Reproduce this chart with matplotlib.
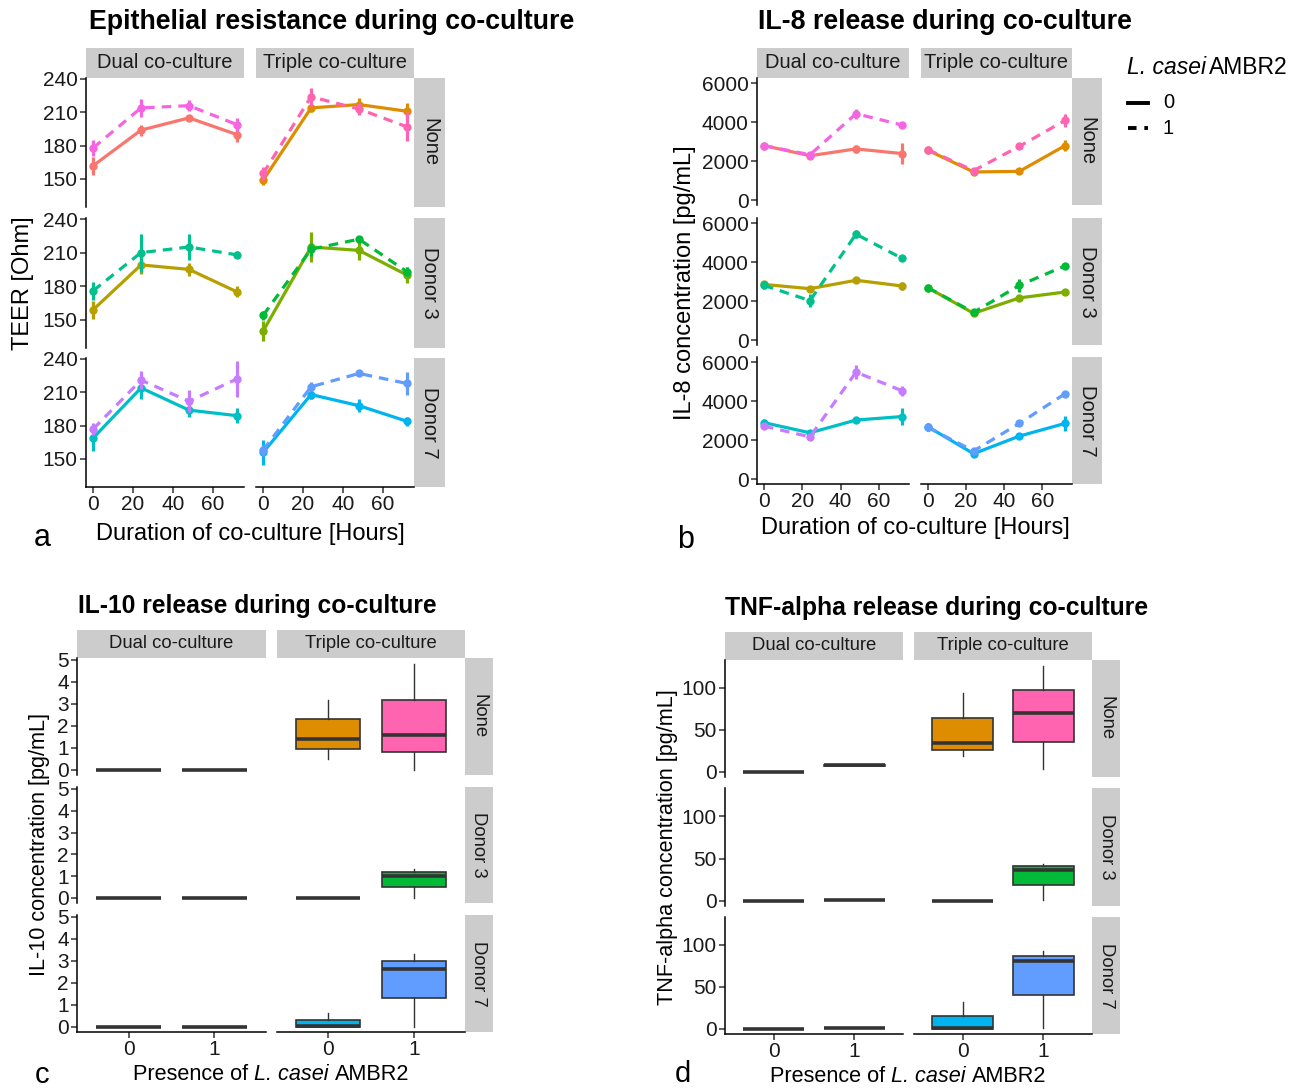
import matplotlib
matplotlib.use("Agg")
import matplotlib.pyplot as plt
from matplotlib.lines import Line2D

W, H = 1307, 1092
plt.rcParams['font.family'] = ['Liberation Sans', 'DejaVu Sans']

# ---- data ----
hours = [0, 24, 48, 72]
donors = ["None", "Donor 3", "Donor 7"]
cultures = ["Dual co-culture", "Triple co-culture"]
casei_levels = ["0", "1"]

# colour per donor -> [culture][casei]
colors_none = [["#F8766D", "#F564E3"], ["#DE8C00", "#FF64B0"]]
colors_d3 = [["#B79F00", "#00C08B"], ["#7CAE00", "#00BA38"]]
colors_d7 = [["#00BFC4", "#C77CFF"], ["#00B4F0", "#619CFF"]]

# TEER [Ohm], [culture][casei] -> values at hours
teer_none = [[[162, 194, 205, 190], [178, 214, 216, 199]],
             [[149, 214, 217, 211], [155, 224, 213, 197]]]
teer_d3 = [[[159, 199, 195, 175], [176, 210, 215, 208]],
           [[140, 215, 212, 190], [154, 213, 222, 193]]]
teer_d7 = [[[169, 214, 194, 189], [177, 221, 202, 222]],
           [[156, 208, 198, 184], [158, 215, 227, 218]]]
teer_none_err = [[[8, 5, 3, 7], [7, 8, 5, 6]], [[4, 4, 6, 7], [6, 8, 5, 13]]]
teer_d3_err = [[[8, 8, 6, 5], [8, 17, 12, 3]], [[9, 13, 9, 7], [4, 6, 3, 4]]]
teer_d7_err = [[[12, 10, 6, 7], [5, 8, 10, 16]], [[11, 4, 6, 4], [5, 4, 2, 10]]]

# IL-8 [pg/mL]
il8_none = [[[2800, 2280, 2630, 2390], [2800, 2330, 4430, 3850]],
            [[2560, 1450, 1480, 2800], [2590, 1520, 2760, 4090]]]
il8_d3 = [[[2860, 2640, 3070, 2780], [2810, 2030, 5430, 4190]],
          [[2690, 1380, 2170, 2470], [2690, 1430, 2810, 3810]]]
il8_d7 = [[[2900, 2380, 3030, 3210], [2720, 2170, 5480, 4530]],
          [[2690, 1310, 2210, 2860], [2650, 1450, 2860, 4380]]]
il8_none_err = [[[150, 120, 220, 550], [100, 120, 250, 150]],
                [[120, 100, 100, 300], [100, 150, 150, 350]]]
il8_d3_err = [[[150, 100, 150, 200], [200, 350, 200, 150]],
              [[100, 150, 150, 100], [100, 100, 350, 150]]]
il8_d7_err = [[[200, 150, 100, 450], [150, 150, 350, 250]],
              [[200, 150, 100, 400], [150, 150, 150, 150]]]

# box stats (whislo, q1, med, q3, whishi), [culture][casei]
il10_none = [[(0, 0, 0, 0, 0), (0, 0, 0, 0, 0)],
             [(0.5, 0.95, 1.4, 2.3, 3.2), (0, 0.8, 1.6, 3.2, 4.8)]]
il10_d3 = [[(0, 0, 0, 0, 0), (0, 0, 0, 0, 0)],
           [(0, 0, 0, 0, 0), (0, 0.5, 1.0, 1.2, 1.35)]]
il10_d7 = [[(0, 0, 0, 0, 0), (0, 0, 0, 0, 0)],
           [(0, 0, 0.03, 0.33, 0.65), (0, 1.3, 2.65, 3.0, 3.3)]]
tnf_none = [[(0, 0, 0, 0, 0), (7.5, 7.5, 8, 8.5, 8.5)],
            [(19, 26, 34, 64, 94), (3, 36, 70, 97, 126)]]
tnf_d3 = [[(0, 0, 0, 0, 0), (1.5, 1.5, 1.5, 1.5, 1.5)],
          [(0, 0, 0, 0, 0), (1, 19, 36, 41, 44)]]
tnf_d7 = [[(0, 0, 0, 0, 0), (1.5, 1.5, 1.5, 1.5, 1.5)],
          [(0, 0, 1, 16, 32), (1, 40, 81, 87, 93)]]

STRIP = "#CCCCCC"
TXT = "#1A1A1A"

fig = plt.figure(figsize=(W / 100, H / 100), dpi=100)
renderer = fig.canvas.get_renderer()


def px_axes(x0, y0, x1, y1):
    return fig.add_axes([x0 / W, 1 - y1 / H, (x1 - x0) / W, (y1 - y0) / H])


def strip(x0, y0, x1, y1, text, size, rot=0):
    ax = px_axes(x0, y0, x1, y1)
    ax.set_facecolor(STRIP)
    ax.set_xticks([])
    ax.set_yticks([])
    for s in ax.spines.values():
        s.set_visible(False)
    ax.text(0.5, 0.5, text, rotation=rot, ha="center", va="center",
            fontsize=size, color=TXT, transform=ax.transAxes)


def ftext(x, y, s, **kw):
    return fig.text(x / W, 1 - y / H, s, **kw)


def mixed_text(x, y, parts, size, gap, center=True):
    # parts: list of (text, style); gap in px between consecutive parts
    objs = [ftext(0, y, t, fontsize=size, style=st, ha="left", va="center")
            for t, st in parts]
    widths = [o.get_window_extent(renderer).width for o in objs]
    total = sum(widths) + gap * (len(parts) - 1)
    cur = x - total / 2 if center else x
    for o, w in zip(objs, widths):
        o.set_x(cur / W)
        cur += w + gap


def facet_grid(cols_x, rows_y, strip_h, strip_w, ylim, yticks, xlim, xticks,
               xticklabels, fs_tick, fs_strip):
    grid = []
    nr = len(rows_y)
    for c, (x0, x1) in enumerate(cols_x):
        strip(x0, rows_y[0][0] - strip_h, x1, rows_y[0][0], cultures[c], fs_strip)
    for r, (y0, y1) in enumerate(rows_y):
        strip(cols_x[-1][1], y0, cols_x[-1][1] + strip_w, y1, donors[r], fs_strip, rot=270)
        row = []
        for c, (x0, x1) in enumerate(cols_x):
            ax = px_axes(x0, y0, x1, y1)
            ax.patch.set_alpha(0)
            ax.set_xlim(xlim)
            ax.set_ylim(ylim)
            ax.set_yticks(yticks)
            ax.set_xticks(xticks)
            ax.set_xticklabels(xticklabels)
            ax.spines["top"].set_visible(False)
            ax.spines["right"].set_visible(False)
            ax.spines["left"].set_visible(c == 0)
            ax.spines["bottom"].set_visible(r == nr - 1)
            for s in ("left", "bottom"):
                ax.spines[s].set_linewidth(1.1)
                ax.spines[s].set_color("black")
            ax.tick_params(left=(c == 0), labelleft=(c == 0),
                           bottom=(r == nr - 1), labelbottom=(r == nr - 1),
                           length=4, width=1.1, color="#333333",
                           labelsize=fs_tick, labelcolor=TXT, pad=2)
            row.append(ax)
        grid.append(row)
    return grid


def draw_lines(grid, data, errs, cols):
    for r in range(3):
        for c in range(2):
            ax = grid[r][c]
            for k in range(2):
                ls = "-" if k == 0 else (0, (3.0, 2.2))
                ax.errorbar(hours, data[r][c][k], yerr=errs[r][c][k],
                            color=cols[r][c][k], lw=2.3, ls=ls, marker="o",
                            ms=5, elinewidth=2.3, capsize=0, zorder=3 + k,
                            clip_on=False)


def draw_boxes(grid, stats, cols):
    for r in range(3):
        for c in range(2):
            ax = grid[r][c]
            bx = []
            for k in range(2):
                lo, q1, med, q3, hi = stats[r][c][k]
                bx.append(dict(whislo=lo, q1=q1, med=med, q3=q3, whishi=hi,
                               fliers=[]))
            parts = ax.bxp(bx, positions=[1, 2], widths=0.75, patch_artist=True,
                           showcaps=False, showfliers=False,
                           boxprops=dict(edgecolor="#333333", linewidth=1.2),
                           medianprops=dict(color="#333333", linewidth=2.6),
                           whiskerprops=dict(color="#333333", linewidth=1.0))
            for k, b in enumerate(parts["boxes"]):
                b.set_facecolor(cols[r][c][k])
            ax.set_xlim(0.4, 2.6)
            ax.set_xticks([1, 2])
            ax.set_xticklabels(casei_levels)


line_cols = [colors_none, colors_d3, colors_d7]

# ---- panel a ----
ga = facet_grid([(86, 244), (256, 414)], [(78, 207), (218, 348), (358, 487)],
                30, 31, (124.8, 240.9), [150, 180, 210, 240], (-3.6, 75.6),
                [0, 20, 40, 60], ["0", "20", "40", "60"], 15, 14.5)
draw_lines(ga, [teer_none, teer_d3, teer_d7],
           [teer_none_err, teer_d3_err, teer_d7_err], line_cols)
ftext(332, 22, "Epithelial resistance during co-culture", fontsize=19.3,
      fontweight="bold", ha="center", va="center")
ftext(23, 283, "TEER [Ohm]", fontsize=17, rotation=90, ha="center", va="center")
ftext(250, 534, "Duration of co-culture [Hours]", fontsize=17, ha="center", va="center")
ftext(42, 538, "a", fontsize=22, ha="center", va="center")

# ---- panel b ----
gb = facet_grid([(757, 909), (921, 1072)], [(78, 205), (218, 345), (357, 484)],
                30, 30, (-240, 6256), [0, 2000, 4000, 6000], (-3.6, 75.6),
                [0, 20, 40, 60], ["0", "20", "40", "60"], 15, 14.5)
draw_lines(gb, [il8_none, il8_d3, il8_d7],
           [il8_none_err, il8_d3_err, il8_d7_err], line_cols)
ftext(945, 22, "IL-8 release during co-culture", fontsize=19.3,
      fontweight="bold", ha="center", va="center")
ftext(685, 283, "IL-8 concentration [pg/mL]", fontsize=17, rotation=90,
      ha="center", va="center")
ftext(915, 528, "Duration of co-culture [Hours]", fontsize=17, ha="center", va="center")
ftext(686, 540, "b", fontsize=22, ha="center", va="center")

# legend
mixed_text(1127, 68, [("L. casei", "italic"), ("AMBR2", "normal")], 16.5, 3,
           center=False)
fig.add_artist(Line2D([1128 / W, 1148 / W], [1 - 103 / H] * 2, color="black", lw=2.8))
fig.add_artist(Line2D([1128 / W, 1148 / W], [1 - 128 / H] * 2, color="black", lw=2.8,
                      ls=(0, (2.2, 2.0))))
ftext(1163, 103, "0", fontsize=14.5, ha="left", va="center")
ftext(1163, 128, "1", fontsize=14.5, ha="left", va="center")

# ---- panel c ----
gc = facet_grid([(77, 266), (277, 465)], [(658, 775), (787, 903), (915, 1032)],
                28, 28, (-0.23, 5.09), [0, 1, 2, 3, 4, 5], (0.4, 2.6),
                [1, 2], casei_levels, 15, 13.3)
draw_boxes(gc, [il10_none, il10_d3, il10_d7], line_cols)
ftext(257, 606, "IL-10 release during co-culture", fontsize=17.7,
      fontweight="bold", ha="center", va="center")
ftext(40, 845, "IL-10 concentration [pg/mL]", fontsize=15.6, rotation=90,
      ha="center", va="center")
mixed_text(271, 1074, [("Presence of", "normal"), ("L. casei", "italic"),
                       ("AMBR2", "normal")], 15.6, 6)
ftext(42, 1075, "c", fontsize=21, ha="center", va="center")

# ---- panel d ----
gd = facet_grid([(725, 903), (914, 1092)], [(660, 777), (788, 906), (917, 1034)],
                28, 28, (-6, 133.3), [0, 50, 100], (0.4, 2.6),
                [1, 2], casei_levels, 15, 13.3)
draw_boxes(gd, [tnf_none, tnf_d3, tnf_d7], line_cols)
ftext(937, 608, "TNF-alpha release during co-culture", fontsize=17.8,
      fontweight="bold", ha="center", va="center")
ftext(668, 847, "TNF-alpha concentration [pg/mL]", fontsize=15.6, rotation=90,
      ha="center", va="center")
mixed_text(908, 1076, [("Presence of", "normal"), ("L. casei", "italic"),
                       ("AMBR2", "normal")], 15.6, 6)
ftext(683, 1074, "d", fontsize=21, ha="center", va="center")

fig.savefig("out.png", dpi=100)
